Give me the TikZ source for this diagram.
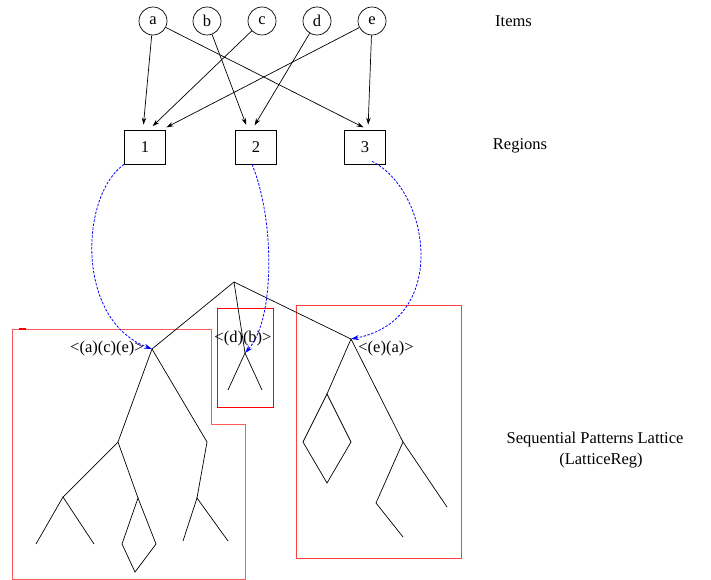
\documentclass[tikz,border=0pt]{standalone}
\usepackage{fontspec}
\setmainfont{Liberation Serif}
\usetikzlibrary{arrows.meta}
\begin{document}
\begin{tikzpicture}[x=1pt,y=-1pt,
  item/.style={draw,circle,minimum size=28pt,inner sep=0pt,line width=0.7pt,font=\fontsize{16.5}{19}\selectfont},
  region/.style={draw,rectangle,minimum width=41pt,minimum height=34pt,inner sep=0pt,line width=0.7pt,font=\fontsize{16.5}{19}\selectfont},
  lbl/.style={font=\fontsize{16.5}{19}\selectfont,inner sep=0pt},
  arr/.style={-{Stealth[length=7pt,width=4.5pt]},line width=0.7pt,shorten >=5pt},
  tree/.style={line width=0.7pt},
  map/.style={blue,line width=0.8pt,dash pattern=on 2.5pt off 1.5pt,-{Stealth[length=8pt,width=5pt]}},
  regbox/.style={line width=1pt}]
\useasboundingbox (0,0) rectangle (711,580);

% items
\node[item] (a) at (153,21) {a};
\node[item] (b) at (207,21) {b};
\node[item] (c) at (262,21) {c};
\node[item] (d) at (317,21) {d};
\node[item] (e) at (372,21) {e};

% regions
\node[region] (r1) at (145,147) {1};
\node[region] (r2) at (256,147) {2};
\node[region] (r3) at (365,147) {3};

\node[lbl] (litems) at (513.5,21) {Items};
\node[lbl] (lregions) at (520,146) {Regions};
\node[lbl] (llat1) at (595,440) {Sequential Patterns Lattice};
\node[lbl] (llat2) at (601,461) {(LatticeReg)};

% item -> region arrows
\draw[arr] (a) -- ([xshift=-2pt]r1.north);
\draw[arr] (c) -- ([xshift=4pt]r1.north);
\draw[arr] (e) -- ([xshift=17pt]r1.north);
\draw[arr] (b) -- ([xshift=-8pt]r2.north);
\draw[arr] (d) -- ([xshift=-4pt]r2.north);
\draw[arr] (a) -- ([xshift=3pt]r3.north);
\draw[arr] (e) -- ([xshift=3pt]r3.north);

% red region boxes
\draw[regbox,red!65] (12,329) -- (211,329) -- (211,424) -- (245,424) -- (245,579) -- (12,579) -- cycle;
\draw[red,line width=1.6pt] (19,329) -- (26,329);
\draw[regbox,red] (217,308) rectangle (273,407);
\draw[regbox,red!75] (296,305) rectangle (461,558);

% lattice coordinates
\coordinate (root) at (234,282);
\coordinate (A) at (152,349);
\coordinate (M) at (245,353);
\coordinate (B) at (351,339);
\coordinate (M1) at (228,390);
\coordinate (M2) at (262,390);
\coordinate (A1) at (118,442);
\coordinate (A2) at (207,442);
\coordinate (A11) at (63,497);
\coordinate (A12) at (138,498);
\coordinate (A111) at (36,544);
\coordinate (A112) at (94,544);
\coordinate (A121) at (122,544);
\coordinate (A122) at (156,544);
\coordinate (A123) at (135,572);
\coordinate (A21) at (197,498);
\coordinate (A211) at (183,541);
\coordinate (A212) at (228,541);
\coordinate (B1) at (327,394);
\coordinate (B11) at (303,442);
\coordinate (B12) at (351,442);
\coordinate (B13) at (327,483);
\coordinate (B2) at (403,442);
\coordinate (B21) at (447,507);
\coordinate (B22) at (376,503);
\coordinate (B221) at (403,537);

\draw[tree] (root) -- (A);
\draw[tree] (root) -- (M);
\draw[tree] (root) -- (B);
\draw[tree] (M1) -- (M) -- (M2);
\draw[tree] (A) -- (A1);
\draw[tree] (A) -- (A2);
\draw[tree] (A1) -- (A11);
\draw[tree] (A1) -- (A12);
\draw[tree] (A111) -- (A11) -- (A112);
\draw[tree] (A12) -- (A121) -- (A123) -- (A122) -- cycle;
\draw[tree] (A2) -- (A21);
\draw[tree] (A211) -- (A21) -- (A212);
\draw[tree] (B) -- (B1);
\draw[tree] (B1) -- (B11) -- (B13) -- (B12) -- cycle;
\draw[tree] (B) -- (B2);
\draw[tree] (B2) -- (B21);
\draw[tree] (B2) -- (B22) -- (B221);

% pattern labels
\node[lbl] (pA) at (107,349) {\textless(a)(c)(e)\textgreater};
\node[lbl] (pM) at (243,339) {\textless(d)(b)\textgreater};
\node[lbl] (pB) at (386,349) {\textless(e)(a)\textgreater};

% mapping arrows
\draw[map] (r1.south west) .. controls (80,195) and (75,320) .. (A);
\draw[map] ([xshift=-4pt]r2.south) .. controls (275,220) and (275,320) .. (M);
\draw[map] ([xshift=7pt,yshift=3pt]r3.south) .. controls (430,190) and (450,320) .. (B);
\end{tikzpicture}
\end{document}
